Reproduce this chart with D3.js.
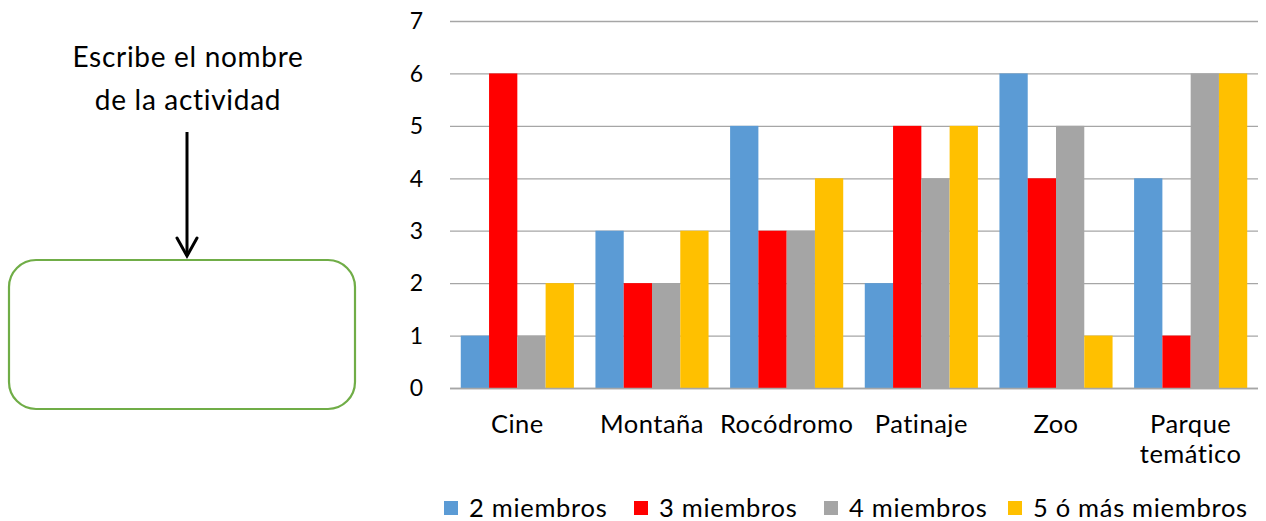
<!DOCTYPE html>
<html><head><meta charset="utf-8">
<script src="https://cdn.jsdelivr.net/npm/d3@7"></script>
<style>
html,body{margin:0;padding:0;background:#fff;}
svg{display:block;}
text{font-family:Lato,"Open Sans",sans-serif;fill:#000;}
</style></head>
<body>
<svg id="c" width="1266" height="521"></svg>
<script>
const categories = ["Cine","Montaña","Rocódromo","Patinaje","Zoo","Parque temático"];
const categoryLines = [["Cine"],["Montaña"],["Rocódromo"],["Patinaje"],["Zoo"],["Parque","temático"]];
const seriesNames = ["2 miembros","3 miembros","4 miembros","5 ó más miembros"];
const seriesColors = ["#5B9BD5","#FF0000","#A5A5A5","#FFC000"];
const values2 = [1,3,5,2,6,4];
const values3 = [6,2,3,5,4,1];
const values4 = [1,2,3,4,5,6];
const values5 = [2,3,4,5,1,6];
const yTicks = [0,1,2,3,4,5,6,7];
const noteLines = ["Escribe el nombre","de la actividad"];

const seriesValues = [values2,values3,values4,values5];
const svg = d3.select("#c");

const x = d3.scaleBand().domain(categories).range([450,1258]).paddingInner(0.16).paddingOuter(0.08);
const xs = d3.scaleBand().domain(seriesNames).range([0,x.bandwidth()]);
const y = d3.scaleLinear().domain([0,7]).range([388,21]);

// gridlines
svg.append("g").selectAll("line").data(yTicks).join("line")
  .attr("x1",450).attr("x2",1258)
  .attr("y1",d=>y(d)+0.5).attr("y2",d=>y(d)+0.5)
  .attr("stroke","#A6A6A6").attr("stroke-width",1.3);

// y tick labels
svg.append("g").selectAll("text").data(yTicks).join("text")
  .attr("x",423).attr("y",d=>y(d)).attr("dy","0.36em")
  .attr("text-anchor","end").attr("font-size",23).text(d=>d);

// bars
const rows = [];
categories.forEach((c,i)=>seriesNames.forEach((s,j)=>rows.push({c,s,j,v:seriesValues[j][i]})));
svg.append("g").selectAll("rect").data(rows).join("rect")
  .attr("x",d=>x(d.c)+xs(d.s)).attr("width",xs.bandwidth())
  .attr("y",d=>y(d.v)).attr("height",d=>y(0)-y(d.v))
  .attr("fill",d=>seriesColors[d.j]);

// axis line on top
svg.append("line").attr("x1",450).attr("x2",1258).attr("y1",y(0)+0.5).attr("y2",y(0)+0.5)
  .attr("stroke","#A6A6A6").attr("stroke-width",1.3);

// category labels
const cl = svg.append("g").selectAll("text").data(categories).join("text")
  .attr("text-anchor","middle").attr("font-size",25.5).attr("letter-spacing",0.5)
  .attr("x",d=>x(d)+x.bandwidth()/2).attr("y",433);
cl.each(function(d,i){
  const t=d3.select(this);
  categoryLines[i].forEach((ln,k)=>t.append("tspan").attr("x",x(d)+x.bandwidth()/2).attr("dy",k?30:0).text(ln));
});

// legend
const legendX = [444,634,824,1008];
const lg = svg.append("g").selectAll("g").data(seriesNames).join("g")
  .attr("transform",(d,i)=>`translate(${legendX[i]},501)`);
lg.append("rect").attr("width",14).attr("height",14).attr("fill",(d,i)=>seriesColors[i]);
lg.append("text").attr("x",25).attr("y",16).attr("font-size",25.5).attr("letter-spacing",0.7).text(d=>d);

// note text
svg.append("g").selectAll("text").data(noteLines).join("text")
  .attr("x",188).attr("y",(d,i)=>67+i*42.5).attr("text-anchor","middle")
  .attr("font-size",28).attr("letter-spacing",0.7).attr("fill","#262626").text(d=>d);

// arrow
svg.append("line").attr("x1",187).attr("x2",187).attr("y1",132).attr("y2",256)
  .attr("stroke","#000").attr("stroke-width",3);
svg.append("path").attr("d","M177,238 L187,256 L197,238")
  .attr("fill","none").attr("stroke","#000").attr("stroke-width",3).attr("stroke-linecap","round");

// rounded box
svg.append("rect").attr("x",9).attr("y",260).attr("width",346).attr("height",149)
  .attr("rx",27).attr("ry",27).attr("fill","none").attr("stroke","#70AD47").attr("stroke-width",2.2);
</script>
</body></html>
